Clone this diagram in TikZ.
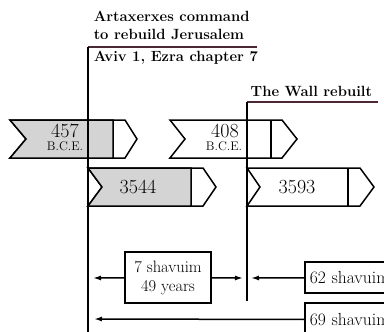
\documentclass[tikz,border=0pt]{standalone}
\usepackage{tikz}
\usetikzlibrary{positioning, arrows.meta, calc}
\definecolor{rulecol}{RGB}{75,40,50}
\definecolor{chevgray}{RGB}{212,212,212}

\begin{document}
\begin{tikzpicture}[x=1pt, y=-1pt, line width=1.5pt,
    every node/.style={inner sep=0pt, font=\fontsize{16.5}{19}\selectfont},
    head/.style={anchor=base west, font=\fontsize{14.8}{18}\selectfont\bfseries},
    yearnum/.style={font=\fontsize{20}{20}\selectfont},
    era/.style={font=\fontsize{12.5}{13}\selectfont},
    spanbox/.style={draw, align=center, minimum width=86pt, minimum height=51pt},
    openbox/.style={draw, anchor=west, inner sep=4pt, minimum width=110pt, minimum height=31pt, text width=100pt,
        font=\fontsize{17.5}{19}\selectfont},
    tip/.style={-{Latex[length=8pt, width=5pt]}}]
    \useasboundingbox (0,0) rectangle (384,332);
    \clip (0,0) rectangle (384,332);

    % Headings
    \node[head] (cmda) at (93,22) {Artaxerxes command};
    \node[head] (cmdb) at (93,40) {to rebuild Jerusalem};
    \node[head] (aviv) at (93,62) {Aviv 1, Ezra chapter 7};
    \node[head] (wall) at (250,96) {The Wall rebuilt};

    % Chevrons, top row (B.C.E.)
    \draw (10,120) -- (125,120) -- (137,139) -- (125,158) -- (10,158) -- (26,139) -- cycle;
    \filldraw[fill=chevgray] (10,120) -- (113,120) -- (113,158) -- (10,158) -- (26,139) -- cycle;
    \draw (170,120) -- (282,120) -- (297,139) -- (282,158) -- (170,158) -- (185,139) -- cycle;
    \draw (271,120) -- (271,158);
    \node[yearnum] (y457) at (65,131) {457};
    \node[era] (e457) at (65,146) {B.C.E.};
    \node[yearnum] (y408) at (225,131) {408};
    \node[era] (e408) at (224,146) {B.C.E.};

    % Chevrons, second row
    \draw (88,168) -- (203,168) -- (216,187) -- (203,206) -- (88,206) -- (102,187) -- cycle;
    \filldraw[fill=chevgray] (88,168) -- (191,168) -- (191,206) -- (88,206) -- (102,187) -- cycle;
    \draw (247,168) -- (360,168) -- (374,187) -- (360,206) -- (247,206) -- (260,187) -- cycle;
    \draw (348,168) -- (348,206);
    \node[yearnum] (a3544) at (138,187) {3544};
    \node[yearnum] (a3593) at (297,187) {3593};

    % Rules and time lines
    \coordinate (cmdtop) at (88,47);
    \coordinate (cmdend) at (88,332);
    \coordinate (walltop) at (247,102);
    \coordinate (wallend) at (247,301);
    \draw[rulecol] (cmdtop) -- (257,47);
    \draw[rulecol] (walltop) -- (378,102);
    \draw (cmdtop) -- (cmdend);
    \draw (walltop) -- (wallend);

    % Spans
    \node[spanbox] (seven) at (168,277.5) {7 shavuim\\49 years};
    \node[openbox] (sixtytwo) at (304,277.5) {62 shavuim};
    \node[openbox, minimum height=33pt] (sixtynine) at (304,319.5) {69 shavuim};
    \coordinate (sevenL) at (93,278);
    \coordinate (sevenR) at (243,278);
    \coordinate (stwoL) at (251,278);
    \coordinate (snineL) at (94,319);
    \draw[tip] (seven) -- (sevenL);
    \draw[tip] (seven) -- (sevenR);
    \draw[tip] (sixtytwo) -- (stwoL);
    \draw[tip] (sixtynine.west) -- (snineL);
\end{tikzpicture}
\end{document}
